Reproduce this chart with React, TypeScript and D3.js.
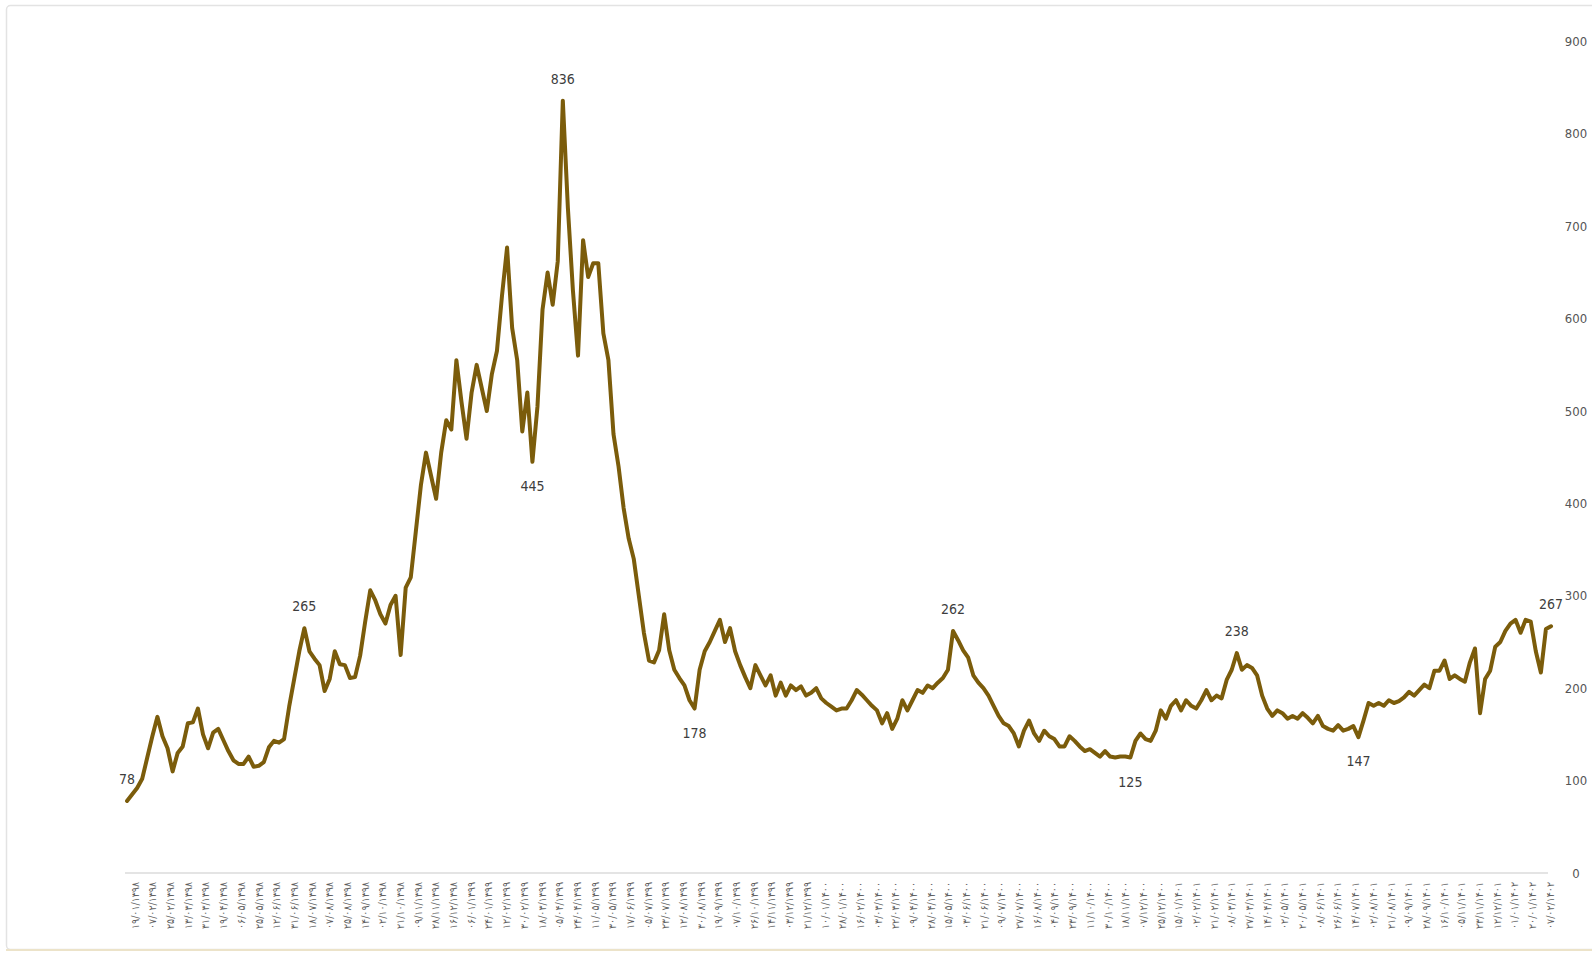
import * as d3 from "d3";

// series values, one per period
const values = [
  78, 85, 92, 102, 125, 148, 169, 148, 135, 110,
  130, 137, 162, 163, 178, 150, 135, 152, 156, 144,
  132, 122, 118, 118, 126, 115, 116, 120, 136, 143,
  141, 145, 180, 210, 240, 265, 240, 232, 225, 197,
  210, 240, 226, 225, 211, 212, 235, 272, 306, 295,
  280, 270, 290, 300, 236, 309, 320, 370, 420, 455,
  430, 405, 455, 490, 480, 555, 510, 470, 520, 550,
  525, 500, 540, 565, 625, 677, 590, 555, 478, 520,
  445, 505, 610, 650, 615, 662, 836, 720, 630, 560,
  685, 645, 660, 660, 584, 555, 475, 440, 395, 362,
  340, 300, 260, 230, 228, 241, 280, 241, 220, 211,
  203, 187, 178, 220, 240, 250, 262, 274, 250, 265,
  240, 225, 212, 200, 225, 214, 203, 214, 192, 206,
  192, 203, 198, 202, 192, 195, 200, 189, 184, 180,
  176, 178, 178, 187, 198, 193, 187, 181, 176, 162,
  173, 156, 167, 187, 176, 187, 198, 195, 203, 200,
  206, 211, 220, 262, 252, 241, 233, 214, 206, 200,
  192, 181, 170, 162, 159, 151, 137, 154, 165, 151,
  143, 154, 148, 145, 137, 137, 148, 143, 137, 132,
  134, 130, 126, 132, 126, 125, 126, 126, 125, 143,
  151, 145, 143, 154, 176, 167, 181, 187, 176, 187,
  181, 178, 187, 198, 187, 192, 189, 209, 220, 238,
  220, 225, 222, 214, 192, 178, 170, 176, 173, 167,
  170, 167, 173, 168, 162, 170, 159, 156, 154, 160,
  154, 156, 159, 147, 165, 184, 181, 184, 181, 187,
  184, 186, 190, 196, 192, 198, 204, 200, 219, 219,
  230, 210, 214, 210, 207, 228, 243, 173, 210, 219,
  245, 250, 262, 270, 274, 260, 274, 272, 240, 217,
  264, 267,
];

// x axis dates (solar hijri)
const dateLabels = [
  "1398/01/19", "1398/02/07", "1398/02/25", "1398/03/13", "1398/03/31",
  "1398/04/19", "1398/05/06", "1398/05/25", "1398/06/12", "1398/06/31",
  "1398/07/18", "1398/08/07", "1398/08/25", "1398/09/14", "1398/10/02",
  "1398/10/21", "1398/11/09", "1398/11/28", "1398/12/16",
  "1399/01/06", "1399/01/24", "1399/02/12", "1399/02/30", "1399/03/18",
  "1399/04/05", "1399/04/24", "1399/05/11", "1399/05/30", "1399/06/17",
  "1399/07/05", "1399/07/23", "1399/08/12", "1399/08/30", "1399/09/19",
  "1399/10/07", "1399/10/26", "1399/11/14", "1399/12/03", "1399/12/21",
  "1400/01/10", "1400/01/28", "1400/02/16", "1400/03/03", "1400/03/22",
  "1400/04/09", "1400/04/28", "1400/05/15", "1400/06/03", "1400/06/21",
  "1400/07/09", "1400/07/27", "1400/08/16", "1400/09/04", "1400/09/23",
  "1400/10/11", "1400/10/30", "1400/11/18", "1400/12/07", "1400/12/25",
  "1401/01/15", "1401/02/02", "1401/02/21", "1401/03/08", "1401/03/27",
  "1401/04/14", "1401/05/02", "1401/05/20", "1401/06/08", "1401/06/26",
  "1401/07/14", "1401/08/02", "1401/08/21", "1401/09/09", "1401/09/28",
  "1401/10/16", "1401/11/05", "1401/11/23", "1401/12/12",
  "1402/01/01", "1402/01/20", "1402/02/07",
];

const yTicks = [0, 100, 200, 300, 400, 500, 600, 700, 800, 900];

// highlighted points: index into values, label above or below
const noteIdx = [0, 35, 80, 86, 112, 163, 198, 219, 243, 281];
const noteBelow = [false, false, true, false, true, false, true, false, true, false];

const W = 1592;
const H = 956;
const LINE = "#7b5c0b";
const FONT = "'DejaVu Sans', sans-serif";

const fa = (s: string) => s.replace(/\d/g, (d) => "۰۱۲۳۴۵۶۷۸۹"[+d]);
const showDate = (s: string) => {
  const [y, m, d] = s.split("/");
  return fa(`${d}/${m}/${y}`);
};

export default function App() {
  const x = d3.scaleLinear().domain([0, values.length - 1]).range([127, 1551]);
  const y = d3.scaleLinear().domain([0, 900]).range([873, 41.5]);
  const xl = d3.scalePoint<string>().domain(dateLabels).range([135, 1550]);

  const line = d3
    .line<number>()
    .x((_, i) => x(i))
    .y((v) => y(v));

  return (
    <>
      <style>{"body{margin:0}"}</style>
      <svg
        width={W}
        height={H}
        style={{ display: "block", fontFamily: FONT, fontStretch: "condensed" }}
      >
        <rect x={0} y={0} width={W} height={H} fill="#fff" />
        {/* frame */}
        <rect x={6.5} y={5.5} width={1620} height={944} rx={4} fill="none" stroke="#e3e3e3" strokeWidth={1.5} />
        <line x1={6} x2={W} y1={950} y2={950} stroke="#ece3c9" strokeWidth={2} />

        {/* baseline */}
        <line x1={125} x2={1548} y1={y(0)} y2={y(0)} stroke="#e4e4e4" strokeWidth={2} />

        {/* y labels on the right */}
        {yTicks.map((t) => (
          <text key={t} x={1576} y={y(t)} dy="0.35em" textAnchor="middle" fontSize={13} fill="#555">
            {t}
          </text>
        ))}

        {/* x labels */}
        {dateLabels.map((d) => (
          <text
            key={d}
            transform={`translate(${xl(d)},882) rotate(-90)`}
            textAnchor="end"
            dy="0.35em"
            fontSize={10.5}
            fill="#5f5f5f"
          >
            {showDate(d)}
          </text>
        ))}

        <path
          d={line(values) ?? ""}
          fill="none"
          stroke={LINE}
          strokeWidth={4}
          strokeLinejoin="round"
          strokeLinecap="round"
        />

        {noteIdx.map((i, k) => (
          <text
            key={i}
            x={x(i)}
            y={y(values[i]) + (noteBelow[k] ? 29 : -17)}
            textAnchor="middle"
            fontSize={14}
            fill="#3d3d3d"
          >
            {values[i]}
          </text>
        ))}
      </svg>
    </>
  );
}
